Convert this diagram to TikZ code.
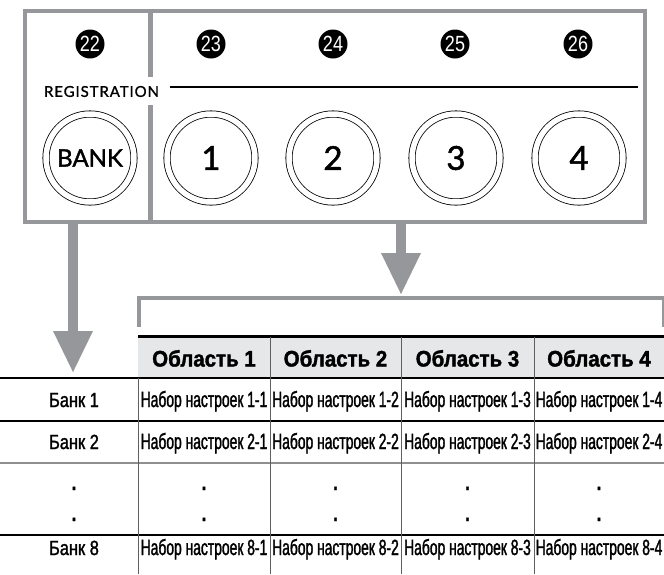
\documentclass[tikz,border=0pt]{standalone}
\usepackage{fontspec}
\setmainfont{Liberation Sans}
\newfontfamily\condf[FakeStretch=0.63,FakeBold=1.4]{Liberation Sans}
\newfontfamily\bankf[FakeStretch=0.80,FakeBold=1.4]{Liberation Sans}
\newfontfamily\numf[FakeStretch=0.82]{Liberation Sans}
\newfontfamily\headf[FakeStretch=0.91,FakeBold=1.6]{Liberation Sans}
\newfontfamily\dinf[FakeBold=1.5]{Lato}
\newfontfamily\dinsp[LetterSpace=6,FakeBold=1.2]{Lato}
\usetikzlibrary{arrows.meta}
\definecolor{framegray}{RGB}{150,151,154}
\definecolor{headgray}{RGB}{230,231,232}
\definecolor{gridgray}{RGB}{95,95,97}
\tikzset{
  marker/.style={circle, fill=black, text=white, minimum size=29pt, inner sep=0pt,
    font=\numf\fontsize{22}{22}\selectfont},
  button/.style={circle, draw=black, double=white, double distance=5.5pt, line width=0.8pt,
    minimum size=88pt, inner sep=0pt},
  frameline/.style={draw=framegray, line width=4.5pt},
  bigarrow/.style={draw=framegray, line width=9.5pt,
    -{Triangle[width=37pt,length=42pt]}, fill=framegray},
  cell/.style={anchor=base, inner sep=0pt, font=\condf\fontsize{22}{22}\selectfont},
  banklbl/.style={anchor=base, inner sep=0pt, font=\bankf\fontsize{20.5}{20.5}\selectfont},
  headlbl/.style={anchor=base, inner sep=0pt, font=\headf\bfseries\fontsize{22.5}{22.5}\selectfont},
  dotlbl/.style={anchor=base, inner sep=0pt, font=\bankf\bfseries\fontsize{21}{21}\selectfont},
  thinrule/.style={draw=black, line width=1.1pt},
  vrule/.style={draw=gridgray, line width=1pt},
}
\begin{document}
\begin{tikzpicture}[x=1pt,y=-1pt]
\useasboundingbox (0,0) rectangle (664,574);
% ---------- control panel ----------
\draw[frameline] (25,11) rectangle (645,222);
\coordinate (divtop) at (150.5,11);
\coordinate (divmid1) at (150.5,77);
\coordinate (divmid2) at (150.5,105);
\coordinate (divbot) at (150.5,222);
\draw[draw=framegray, line width=4.5pt] (divtop) -- (divmid1);
\draw[draw=framegray, line width=4.5pt] (divmid2) -- (divbot);

\node[marker] (m22) at (90,44) {22};
\node[marker] (m23) at (211,44) {23};
\node[marker] (m24) at (333,44) {24};
\node[marker] (m25) at (455,44) {25};
\node[marker] (m26) at (578,44) {26};

\node[inner sep=0pt, font=\dinsp\fontsize{15}{15}\selectfont] (reg) at (101.5,91.5) {REGISTRATION};
\coordinate (regL) at (170,87);
\coordinate (regR) at (638,87);
\draw[line width=1.3pt] (regL) -- (regR);

\node[button, font=\dinf\fontsize{24}{24}\selectfont] (bank) at (90,158) {BANK};
\node[button, font=\dinf\fontsize{33}{33}\selectfont] (b1) at (211,158) {1};
\node[button, font=\dinf\fontsize{33}{33}\selectfont] (b2) at (333,158) {2};
\node[button, font=\dinf\fontsize{33}{33}\selectfont] (b3) at (456,158) {3};
\node[button, font=\dinf\fontsize{33}{33}\selectfont] (b4) at (579,158) {4};

% ---------- arrows ----------
\coordinate (a1s) at (73,224);
\coordinate (a1e) at (73,373);
\coordinate (a2s) at (401,224);
\coordinate (a2e) at (401,295);
\draw[bigarrow] (a1s) -- (a1e);
\draw[bigarrow] (a2s) -- (a2e);

% ---------- bracket ----------
\coordinate (brL) at (139,327);
\coordinate (brTL) at (139,298);
\coordinate (brTR) at (663,298);
\coordinate (brR) at (663,327);
\draw[draw=framegray, line width=4pt] (137.3,298) -- (brTR);
\draw[draw=framegray, line width=3.3pt] (brL) -- (139,296);
\draw[draw=framegray, line width=2.4pt] (brR) -- (663,296);

% ---------- table ----------
\fill[headgray] (138,337.5) rectangle (664,378);
\draw[black, line width=3pt] (138,336) -- (664,336);
\draw[thinrule] (0,378) -- (664,378);
\draw[thinrule] (0,421) -- (664,421);
\draw[draw=gridgray!70, line width=2pt] (0,463) -- (664,463);
\draw[thinrule] (0,535) -- (664,535);
\draw[vrule] (138,378) -- (138,574);
\draw[vrule] (270,337) -- (270,574);
\draw[vrule] (401,337) -- (401,574);
\draw[vrule] (534,337) -- (534,574);

\node[headlbl] (h1) at (204,366.5) {Область 1};
\node[headlbl] (h2) at (335.5,366.5) {Область 2};
\node[headlbl] (h3) at (467.5,366.5) {Область 3};
\node[headlbl] (h4) at (599,366.5) {Область 4};

\node[banklbl] (k1) at (74,407) {Банк 1};
\node[banklbl] (k2) at (74,449) {Банк 2};
\node[banklbl] (k8) at (74,555) {Банк 8};

\foreach \c/\x in {1/204,2/335.5,3/467.5,4/599}{
  \node[cell] (s1\c) at (\x,407) {Набор настроек 1-\c};
  \node[cell] (s2\c) at (\x,449) {Набор настроек 2-\c};
  \node[cell] (s8\c) at (\x,555) {Набор настроек 8-\c};
}
\foreach \x/\n in {74/0,204/1,335.5/2,467.5/3,599/4}{
  \node[dotlbl] (dA\n) at (\x,490) {.};
  \node[dotlbl] (dB\n) at (\x,521) {.};
}
\end{tikzpicture}
\end{document}
